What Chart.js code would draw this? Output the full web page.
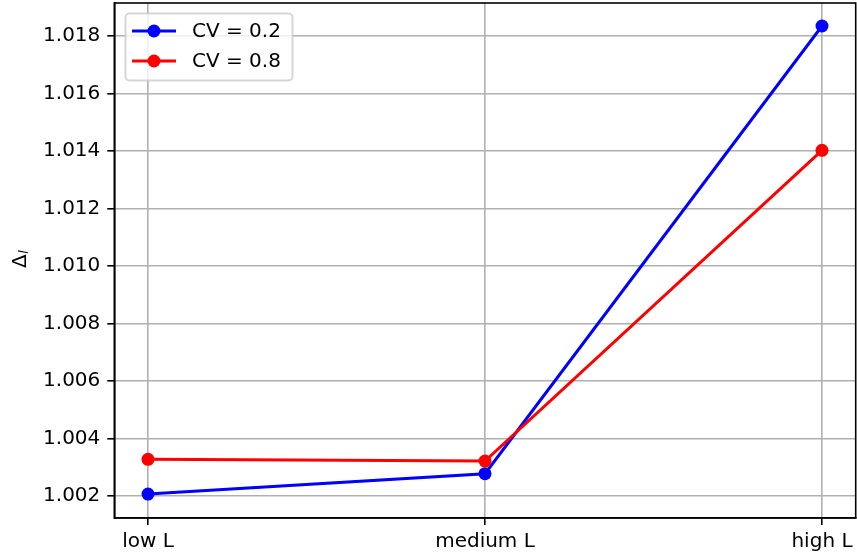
<!DOCTYPE html>
<html>
<head>
<meta charset="utf-8">
<script src="https://cdn.jsdelivr.net/npm/chart.js@4.4.1/dist/chart.umd.min.js"></script>
<style>
  html, body { margin: 0; padding: 0; background: #fff; }
  #wrap { width: 857px; height: 557px; }
</style>
</head>
<body>
<div id="wrap"><canvas id="c" width="857" height="557"></canvas></div>
<script>
// Categories on the x axis
const categories = ['low L', 'medium L', 'high L'];

// Δ_l values per scenario
const cvLow = [1.00207, 1.00278, 1.01834];   // CV = 0.2
const cvHigh = [1.00328, 1.00322, 1.01402];  // CV = 0.8

const seriesNames = ['CV = 0.2', 'CV = 0.8'];

// Y tick values and labels
const yTicks = [1.002, 1.004, 1.006, 1.008, 1.010, 1.012, 1.014, 1.016, 1.018];
const yTickLabels = ['1.002', '1.004', '1.006', '1.008', '1.010', '1.012', '1.014', '1.016', '1.018'];

const FONT = 'DejaVu Sans';
const FS = 20;
const MARKER_R = 6.5;

// Fixed plot rectangle inside the canvas
const AREA = { left: 114.3, top: 3, right: 855.7, bottom: 518 };

function toPoints(vals) {
  return vals.map((v, i) => ({ x: i, y: v }));
}

// Pin the plot rectangle so the axes sit at fixed positions
const fixedArea = {
  id: 'fixedArea',
  afterLayout(chart) {
    const x = chart.scales.x, y = chart.scales.y;
    const ca = chart.chartArea;
    ca.left = AREA.left; ca.top = AREA.top; ca.right = AREA.right; ca.bottom = AREA.bottom;
    ca.width = AREA.right - AREA.left; ca.height = AREA.bottom - AREA.top;
    x.left = AREA.left; x.right = AREA.right; x.width = ca.width;
    x.top = AREA.bottom; x.bottom = chart.height; x.height = chart.height - AREA.bottom;
    y.left = 0; y.right = AREA.left; y.width = AREA.left;
    y.top = AREA.top; y.bottom = AREA.bottom; y.height = ca.height;
    x.configure(); y.configure();
    x._labelItems = null; y._labelItems = null;
  }
};

// Frame on all four sides, legend, and the rotated axis label
const decorations = {
  id: 'decorations',
  afterDraw(chart) {
    const ctx = chart.ctx;
    const a = chart.chartArea;
    ctx.save();
    ctx.strokeStyle = '#000';
    ctx.lineWidth = 1.6;
    ctx.strokeRect(a.left, a.top, a.right - a.left, a.bottom - a.top);

    // legend box
    const bx = 125.5, by = 13.5, bw = 167, bh = 67, r = 4;
    ctx.beginPath();
    ctx.moveTo(bx + r, by);
    ctx.lineTo(bx + bw - r, by);
    ctx.arcTo(bx + bw, by, bx + bw, by + r, r);
    ctx.lineTo(bx + bw, by + bh - r);
    ctx.arcTo(bx + bw, by + bh, bx + bw - r, by + bh, r);
    ctx.lineTo(bx + r, by + bh);
    ctx.arcTo(bx, by + bh, bx, by + bh - r, r);
    ctx.lineTo(bx, by + r);
    ctx.arcTo(bx, by, bx + r, by, r);
    ctx.closePath();
    ctx.fillStyle = 'rgba(255,255,255,0.8)';
    ctx.fill();
    ctx.strokeStyle = 'rgba(204,204,204,0.8)';
    ctx.lineWidth = 2;
    ctx.stroke();

    const rows = [31, 61];
    chart.data.datasets.forEach((ds, i) => {
      const y = rows[i];
      ctx.strokeStyle = ds.borderColor;
      ctx.lineWidth = 3;
      ctx.beginPath();
      ctx.moveTo(132, y);
      ctx.lineTo(176, y);
      ctx.stroke();
      ctx.fillStyle = ds.borderColor;
      ctx.beginPath();
      ctx.arc(154, y, MARKER_R, 0, Math.PI * 2);
      ctx.fill();
      ctx.fillStyle = '#000';
      ctx.font = FS + 'px "' + FONT + '"';
      ctx.textBaseline = 'middle';
      ctx.textAlign = 'left';
      ctx.fillText(ds.label, 192, y + 1);
    });

    // y axis label Δ_l
    ctx.translate(26, 268);
    ctx.rotate(-Math.PI / 2);
    ctx.fillStyle = '#000';
    ctx.textBaseline = 'alphabetic';
    ctx.textAlign = 'left';
    ctx.font = FS + 'px "' + FONT + '"';
    ctx.fillText('Δ', 0, 0);
    const w = ctx.measureText('Δ').width;
    ctx.font = 'oblique 13px "' + FONT + '"';
    ctx.fillText('l', w + 0.5, 2);
    ctx.restore();
  }
};

new Chart(document.getElementById('c'), {
  type: 'line',
  data: {
    datasets: [
      {
        label: seriesNames[0],
        data: toPoints(cvLow),
        borderColor: '#0000ff',
        backgroundColor: '#0000ff',
        borderWidth: 3,
        pointRadius: MARKER_R,
        pointBorderWidth: 0,
        pointHoverRadius: MARKER_R,
        tension: 0,
        order: 1
      },
      {
        label: seriesNames[1],
        data: toPoints(cvHigh),
        borderColor: '#ff0000',
        backgroundColor: '#ff0000',
        borderWidth: 3,
        pointRadius: MARKER_R,
        pointBorderWidth: 0,
        pointHoverRadius: MARKER_R,
        tension: 0,
        order: 0
      }
    ]
  },
  options: {
    responsive: false,
    animation: false,
    events: [],
    layout: { padding: { top: 3, right: 2, left: 0, bottom: 0 } },
    plugins: {
      legend: { display: false },
      tooltip: { enabled: false }
    },
    scales: {
      x: {
        type: 'linear',
        min: -0.1,
        max: 2.1,
        afterBuildTicks: (s) => { s.ticks = categories.map((_, i) => ({ value: i })); },
        afterFit: (s) => { s.height = 39; s.paddingLeft = 0; s.paddingRight = 0; },
        ticks: {
          callback: (v) => categories[v],
          color: '#000',
          font: { family: FONT, size: FS },
          padding: 5,
          maxRotation: 0,
          autoSkip: false
        },
        grid: { color: '#b0b0b0', lineWidth: 1.6, tickColor: '#000', tickLength: 7, tickWidth: 1.6 },
        border: { color: '#000', width: 1.6 }
      },
      y: {
        type: 'linear',
        min: 1.00124,
        max: 1.01914,
        afterBuildTicks: (s) => { s.ticks = yTicks.map(v => ({ value: v })); },
        afterFit: (s) => { s.width = 114; s.paddingTop = 0; s.paddingBottom = 0; },
        ticks: {
          callback: (v) => {
            const i = yTicks.findIndex(t => Math.abs(t - v) < 1e-9);
            return i >= 0 ? yTickLabels[i] : '';
          },
          color: '#000',
          font: { family: FONT, size: FS },
          padding: 7,
          autoSkip: false
        },
        grid: { color: '#b0b0b0', lineWidth: 1.6, tickColor: '#000', tickLength: 7, tickWidth: 1.6 },
        border: { color: '#000', width: 1.6 }
      }
    }
  },
  plugins: [fixedArea, decorations]
});
</script>
</body>
</html>
